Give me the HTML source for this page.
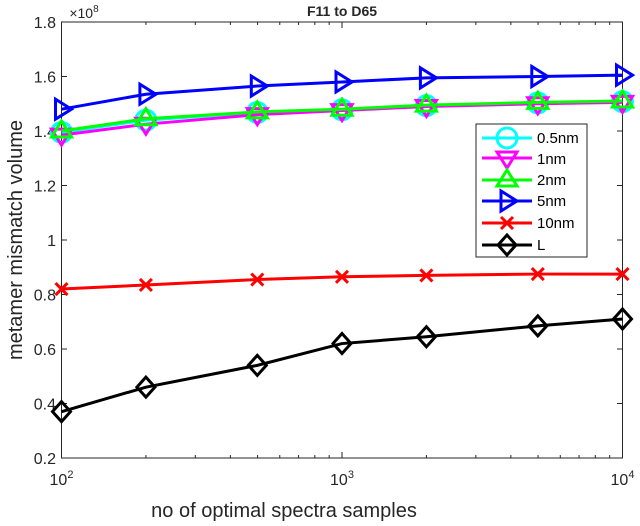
<!DOCTYPE html><html><head><style>body{margin:0;background:#fff}svg{display:block;font-family:"Liberation Sans",sans-serif}</style></head><body>
<svg id="s" width="640" height="526" xmlns="http://www.w3.org/2000/svg">
<rect x="61.5" y="22" width="561" height="436" fill="#fff" stroke="#262626" stroke-width="1"/>
<g id="ax" stroke="#262626" stroke-width="1"></g>
<g font-size="16" fill="#262626" text-anchor="end" id="yl"></g>
<g font-size="16" fill="#262626" text-anchor="middle">
<text x="61.5" y="485">10<tspan font-size="11" dy="-7">2</tspan></text>
<text x="342" y="485">10<tspan font-size="11" dy="-7">3</tspan></text>
<text x="622.5" y="485">10<tspan font-size="11" dy="-7">4</tspan></text>
<text x="84" y="18" font-size="14">×10<tspan font-size="10" dy="-6">8</tspan></text>
<text x="342" y="16" font-weight="bold" font-size="14">F11 to D65</text>
<text x="284" y="517" font-size="20">no of optimal spectra samples</text>
<text transform="translate(22,240) rotate(-90)" font-size="20">metamer mismatch volume</text>
</g>
<g id="ser" fill="none" stroke-width="3"></g>
<rect x="476" y="124" width="111" height="133" fill="#fff" stroke="#262626"/>
<g id="leg" fill="none" stroke-width="3"></g>
<g font-size="15" fill="#000"><text x="537" y="143">0.5nm</text><text x="537" y="164">1nm</text><text x="537" y="185">2nm</text><text x="537" y="206">5nm</text><text x="537" y="228">10nm</text><text x="537" y="250">L</text></g>
</svg>
<script>
const X=[61.5,145.9,257.3,342,426.4,537.8,622.5];
const Y=v=>22+(1.8-v)*272.5;
let ax=document.getElementById('ax'),yl=document.getElementById('yl'),h='',t='';
for(let i=0;i<=8;i++){let v=0.2+i*0.2,y=Y(v);h+=`<line x1="61.5" x2="67" y1="${y}" y2="${y}"/><line x1="617" x2="622.5" y1="${y}" y2="${y}"/>`;t+=`<text x="56" y="${y+6}">${(Math.round(v*10)/10).toString()}</text>`;}
for(let d=0;d<2;d++)for(let k=1;k<=10;k++){let x=61.5+(d+Math.log10(k))*280.5,l=(k==1||k==10)?6:3;h+=`<line x1="${x}" x2="${x}" y1="458" y2="${458-l}"/><line x1="${x}" x2="${x}" y1="22" y2="${22+l}"/>`;}
ax.innerHTML=h;yl.innerHTML=t;
const S=[
['#00ffff','o',[1.395,1.44,1.468,1.478,1.493,1.503,1.508]],
['#ff00ff','v',[1.385,1.425,1.46,1.475,1.49,1.5,1.505]],
['#00ff00','^',[1.4,1.445,1.47,1.48,1.495,1.505,1.51]],
['#0000ff','>',[1.48,1.535,1.565,1.58,1.595,1.6,1.605]],
['#ff0000','x',[.82,.835,.855,.865,.87,.875,.875]],
['#000000','d',[.37,.46,.54,.62,.645,.685,.71]]];
function mk(m,x,y,c){const r=10;
if(m=='o')return `<circle cx="${x}" cy="${y}" r="${r}" stroke="${c}"/>`;
if(m=='v')return `<polygon points="${x-r},${y-r*.6} ${x+r},${y-r*.6} ${x},${y+r}" stroke="${c}"/>`;
if(m=='^')return `<polygon points="${x-r},${y+r*.6} ${x+r},${y+r*.6} ${x},${y-r}" stroke="${c}"/>`;
if(m=='>')return `<polygon points="${x-r*.6},${y-r} ${x-r*.6},${y+r} ${x+r},${y}" stroke="${c}"/>`;
if(m=='x'){let q=6;return `<path d="M${x-q} ${y-q}L${x+q} ${y+q}M${x-q} ${y+q}L${x+q} ${y-q}" stroke="${c}"/>`;}
return `<polygon points="${x},${y-r} ${x+r*.9},${y} ${x},${y+r} ${x-r*.9},${y}" stroke="${c}"/>`;}
let s='',l='',ly=[138,158,180,201,223,245];
S.forEach((a,i)=>{s+=`<polyline points="${a[2].map((v,j)=>X[j]+','+Y(v)).join(' ')}" stroke="${a[0]}"/>`;a[2].forEach((v,j)=>s+=mk(a[1],X[j],Y(v),a[0]));
l+=`<line x1="482" x2="532" y1="${ly[i]}" y2="${ly[i]}" stroke="${a[0]}"/>`+mk(a[1],507,ly[i],a[0]);});
document.getElementById('ser').innerHTML=s;document.getElementById('leg').innerHTML=l;
</script></body></html>
